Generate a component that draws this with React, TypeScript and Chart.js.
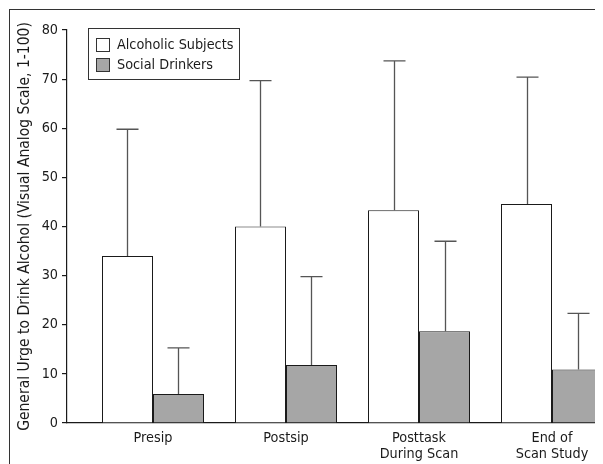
import React, { useEffect, useRef } from "react";
import { Chart, registerables } from "chart.js";

Chart.register(...registerables);

const categories: string[][] = [["Presip"], ["Postsip"], ["Posttask", "During Scan"], ["End of", "Scan Study"]];
const alcoholicMeans = [34.0, 40.0, 43.3, 44.6];
const alcoholicErrTop = [59.8, 69.7, 73.7, 70.4];
const socialMeans = [5.9, 11.8, 18.7, 10.9];
const socialErrTop = [15.3, 29.8, 37.0, 22.3];
const seriesLabels = ["Alcoholic Subjects", "Social Drinkers"];
const yAxisTitle = "General Urge to Drink Alcohol (Visual Analog Scale, 1-100)";
const yMin = 0;
const yMax = 80;
const yStep = 10;

const FONT = "'DejaVu Sans Condensed', 'Liberation Sans Narrow', 'Liberation Sans', Arial, sans-serif";
const FSIZE = 14.3;
const INK = "#1a1a1a";
const GRAY = "#a6a6a6";

const errTops = [alcoholicErrTop, socialErrTop];

const errorBarPlugin = {
  id: "errorBars",
  afterDatasetsDraw(chart: any) {
    const ctx = chart.ctx;
    const yScale = chart.scales.y;
    ctx.save();
    ctx.strokeStyle = "#555";
    ctx.lineWidth = 1.3;
    chart.data.datasets.forEach((_: any, di: number) => {
      const meta = chart.getDatasetMeta(di);
      meta.data.forEach((el: any, j: number) => {
        const top = yScale.getPixelForValue(errTops[di][j]);
        const x = Math.round(el.x) + 0.5;
        ctx.beginPath();
        ctx.moveTo(x, el.y);
        ctx.lineTo(x, top);
        ctx.moveTo(x - 11, top);
        ctx.lineTo(x + 11, top);
        ctx.stroke();
      });
    });
    ctx.restore();
  },
};

const legendPlugin = {
  id: "boxLegend",
  afterDraw(chart: any) {
    const ctx = chart.ctx;
    const area = chart.chartArea;
    const x0 = area.left + 21.5;
    const y0 = area.top - 1.5;
    ctx.save();
    ctx.fillStyle = "#fff";
    ctx.fillRect(x0, y0, 151, 51);
    ctx.strokeStyle = "#333";
    ctx.lineWidth = 1;
    ctx.strokeRect(x0, y0, 151, 51);
    chart.data.datasets.forEach((ds: any, i: number) => {
      const sy = y0 + 10 + i * 20;
      ctx.fillStyle = ds.backgroundColor;
      ctx.fillRect(x0 + 8, sy, 13, 13);
      ctx.strokeStyle = "#333";
      ctx.strokeRect(x0 + 8, sy, 13, 13);
      ctx.fillStyle = INK;
      ctx.font = `${FSIZE}px ${FONT}`;
      ctx.textBaseline = "middle";
      ctx.textAlign = "left";
      ctx.fillText(ds.label, x0 + 28.5, sy + 7);
    });
    ctx.restore();
  },
};

export default function App() {
  const ref = useRef<HTMLCanvasElement | null>(null);

  useEffect(() => {
    if (!ref.current) return;
    const chart = new Chart(ref.current, {
      type: "bar",
      data: {
        datasets: [
          {
            label: seriesLabels[0],
            data: alcoholicMeans.map((v, i) => ({ x: i, y: v })),
            backgroundColor: "#ffffff",
            borderColor: INK,
            borderWidth: 1,
            borderSkipped: "bottom",
          },
          {
            label: seriesLabels[1],
            data: socialMeans.map((v, i) => ({ x: i, y: v })),
            backgroundColor: GRAY,
            borderColor: INK,
            borderWidth: 1,
            borderSkipped: "bottom",
          },
        ],
      },
      options: {
        animation: false,
        responsive: false,
        maintainAspectRatio: false,
        categoryPercentage: 102 / 133,
        barPercentage: 1,
        layout: { padding: { left: 2, top: 20, right: 0, bottom: 0 } },
        plugins: {
          legend: { display: false },
          tooltip: { enabled: false },
        },
        scales: {
          x: {
            type: "linear",
            offset: false,
            min: -0.6466,
            max: 3.6466,
            afterBuildTicks: (scale: any) => {
              scale.ticks = categories.map((_, i) => ({ value: i }));
            },
            afterFit: (scale: any) => {
              scale.height = 41;
            },
            grid: { display: false, drawTicks: false },
            border: { display: true, color: INK, width: 1.2 },
            ticks: {
              color: INK,
              padding: 7,
              maxRotation: 0,
              autoSkip: false,
              font: { family: FONT, size: FSIZE, lineHeight: 1.15 },
              callback: (value: any) => categories[value] ?? "",
            },
          },
          y: {
            min: yMin,
            max: yMax,
            afterFit: (scale: any) => {
              scale.width = 55;
            },
            grid: {
              display: true,
              drawOnChartArea: false,
              drawTicks: true,
              tickLength: 5,
              color: INK,
              lineWidth: 1.2,
            },
            border: { display: true, color: INK, width: 1.2 },
            ticks: {
              stepSize: yStep,
              color: INK,
              padding: 4,
              font: { family: FONT, size: FSIZE },
            },
            title: {
              display: true,
              text: yAxisTitle,
              color: INK,
              padding: { top: 3.5, bottom: 2 },
              font: { family: FONT, size: 15.5 },
            },
          },
        },
      },
      plugins: [errorBarPlugin, legendPlugin],
    });
    return () => chart.destroy();
  }, []);

  return (
    <div style={{ position: "relative", width: 595, height: 456, overflow: "hidden" }}>
      <div
        style={{
          position: "absolute",
          left: 1,
          top: 1,
          width: 1000,
          height: 1000,
          borderTop: "1.5px solid #333",
          borderLeft: "1.5px solid #333",
        }}
      />
      <canvas
        ref={ref}
        width={628}
        height={454}
        style={{ position: "absolute", left: 2, top: 2, width: 628, height: 454, display: "block" }}
      />
    </div>
  );
}
